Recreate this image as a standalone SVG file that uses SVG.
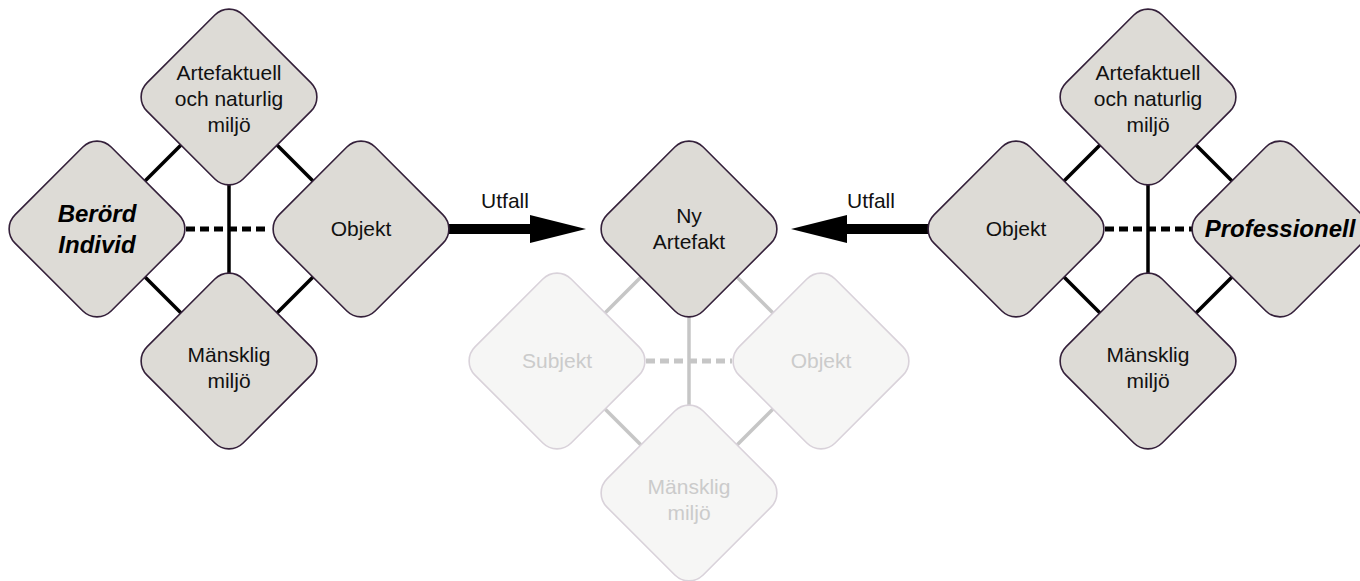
<svg xmlns="http://www.w3.org/2000/svg" xmlns:xlink="http://www.w3.org/1999/xlink" width="1360" height="581" viewBox="0 0 1360 581">
<style>
.n{fill:#dddbd6;stroke:#34203a;stroke-width:1.6}
.f{fill:#f6f6f5;stroke:#d9d2da;stroke-width:1.6}
.t{font-family:"Liberation Sans",Arial,sans-serif;font-size:21px;fill:#111;text-anchor:middle}
.tf{font-family:"Liberation Sans",Arial,sans-serif;font-size:21px;fill:#cbcbcb;text-anchor:middle}
.b{font-family:"Liberation Sans",Arial,sans-serif;font-size:24px;font-weight:bold;font-style:italic;fill:#000;text-anchor:middle}
.l{stroke:#000;stroke-width:3.5;fill:none}
.d{stroke:#000;stroke-width:5;stroke-dasharray:9 5;fill:none}
.lg{stroke:#c6c6c6;stroke-width:3.5;fill:none}
.dg{stroke:#c6c6c6;stroke-width:5;stroke-dasharray:9 5;fill:none}
.a{fill:#000}
</style>
<defs>
<rect id="dm" x="-68" y="-68" width="136" height="136" rx="20" ry="20"/>
</defs>
<g id="connectors">
<line class="l" x1="229" y1="97" x2="97" y2="229"/>
<line class="l" x1="229" y1="97" x2="361" y2="229"/>
<line class="l" x1="97" y1="229" x2="229" y2="361"/>
<line class="l" x1="361" y1="229" x2="229" y2="361"/>
<line class="l" x1="229" y1="97" x2="229" y2="361"/>
<line class="d" x1="186" y1="229" x2="270" y2="229"/>
<line class="lg" x1="689" y1="229" x2="557" y2="361"/>
<line class="lg" x1="689" y1="229" x2="821" y2="361"/>
<line class="lg" x1="557" y1="361" x2="689" y2="493"/>
<line class="lg" x1="821" y1="361" x2="689" y2="493"/>
<line class="lg" x1="689" y1="229" x2="689" y2="493"/>
<line class="dg" x1="646" y1="361" x2="732" y2="361"/>
<line class="l" x1="1148" y1="97" x2="1016" y2="229"/>
<line class="l" x1="1148" y1="97" x2="1280" y2="229"/>
<line class="l" x1="1016" y1="229" x2="1148" y2="361"/>
<line class="l" x1="1280" y1="229" x2="1148" y2="361"/>
<line class="l" x1="1148" y1="97" x2="1148" y2="361"/>
<line class="d" x1="1105" y1="229" x2="1192" y2="229"/>
<polygon class="a" points="448,224 530,224 530,215 586,229 530,243 530,234 448,234"/>
<polygon class="a" points="930,224 847,224 847,215 791,229 847,243 847,234 930,234"/>
<text class="t" x="505" y="208">Utfall</text>
<text class="t" x="871" y="208">Utfall</text>
</g>
<g id="n-l-top"><use xlink:href="#dm" class="n" transform="translate(229,97) rotate(45)"/>
<text class="t" x="229" y="80">Artefaktuell</text><text class="t" x="229" y="106">och naturlig</text><text class="t" x="229" y="132">miljö</text></g>
<g id="n-l-left"><use xlink:href="#dm" class="n" transform="translate(97,229) rotate(45)"/>
<text class="b" x="97" y="222">Berörd</text><text class="b" x="97" y="253">Individ</text></g>
<g id="n-l-right"><use xlink:href="#dm" class="n" transform="translate(361,229) rotate(45)"/>
<text class="t" x="361" y="236">Objekt</text></g>
<g id="n-l-bottom"><use xlink:href="#dm" class="n" transform="translate(229,361) rotate(45)"/>
<text class="t" x="229" y="362">Mänsklig</text><text class="t" x="229" y="388">miljö</text></g>
<g id="n-c-left"><use xlink:href="#dm" class="f" transform="translate(557,361) rotate(45)"/>
<text class="tf" x="557" y="368">Subjekt</text></g>
<g id="n-c-right"><use xlink:href="#dm" class="f" transform="translate(821,361) rotate(45)"/>
<text class="tf" x="821" y="368">Objekt</text></g>
<g id="n-c-bottom"><use xlink:href="#dm" class="f" transform="translate(689,493) rotate(45)"/>
<text class="tf" x="689" y="494">Mänsklig</text><text class="tf" x="689" y="520">miljö</text></g>
<g id="n-c-top"><use xlink:href="#dm" class="n" transform="translate(689,229) rotate(45)"/>
<text class="t" x="689" y="223">Ny</text><text class="t" x="689" y="249">Artefakt</text></g>
<g id="n-r-top"><use xlink:href="#dm" class="n" transform="translate(1148,97) rotate(45)"/>
<text class="t" x="1148" y="80">Artefaktuell</text><text class="t" x="1148" y="106">och naturlig</text><text class="t" x="1148" y="132">miljö</text></g>
<g id="n-r-left"><use xlink:href="#dm" class="n" transform="translate(1016,229) rotate(45)"/>
<text class="t" x="1016" y="236">Objekt</text></g>
<g id="n-r-right"><use xlink:href="#dm" class="n" transform="translate(1280,229) rotate(45)"/>
<text class="b" x="1280" y="237">Professionell</text></g>
<g id="n-r-bottom"><use xlink:href="#dm" class="n" transform="translate(1148,361) rotate(45)"/>
<text class="t" x="1148" y="362">Mänsklig</text><text class="t" x="1148" y="388">miljö</text></g>
</svg>
